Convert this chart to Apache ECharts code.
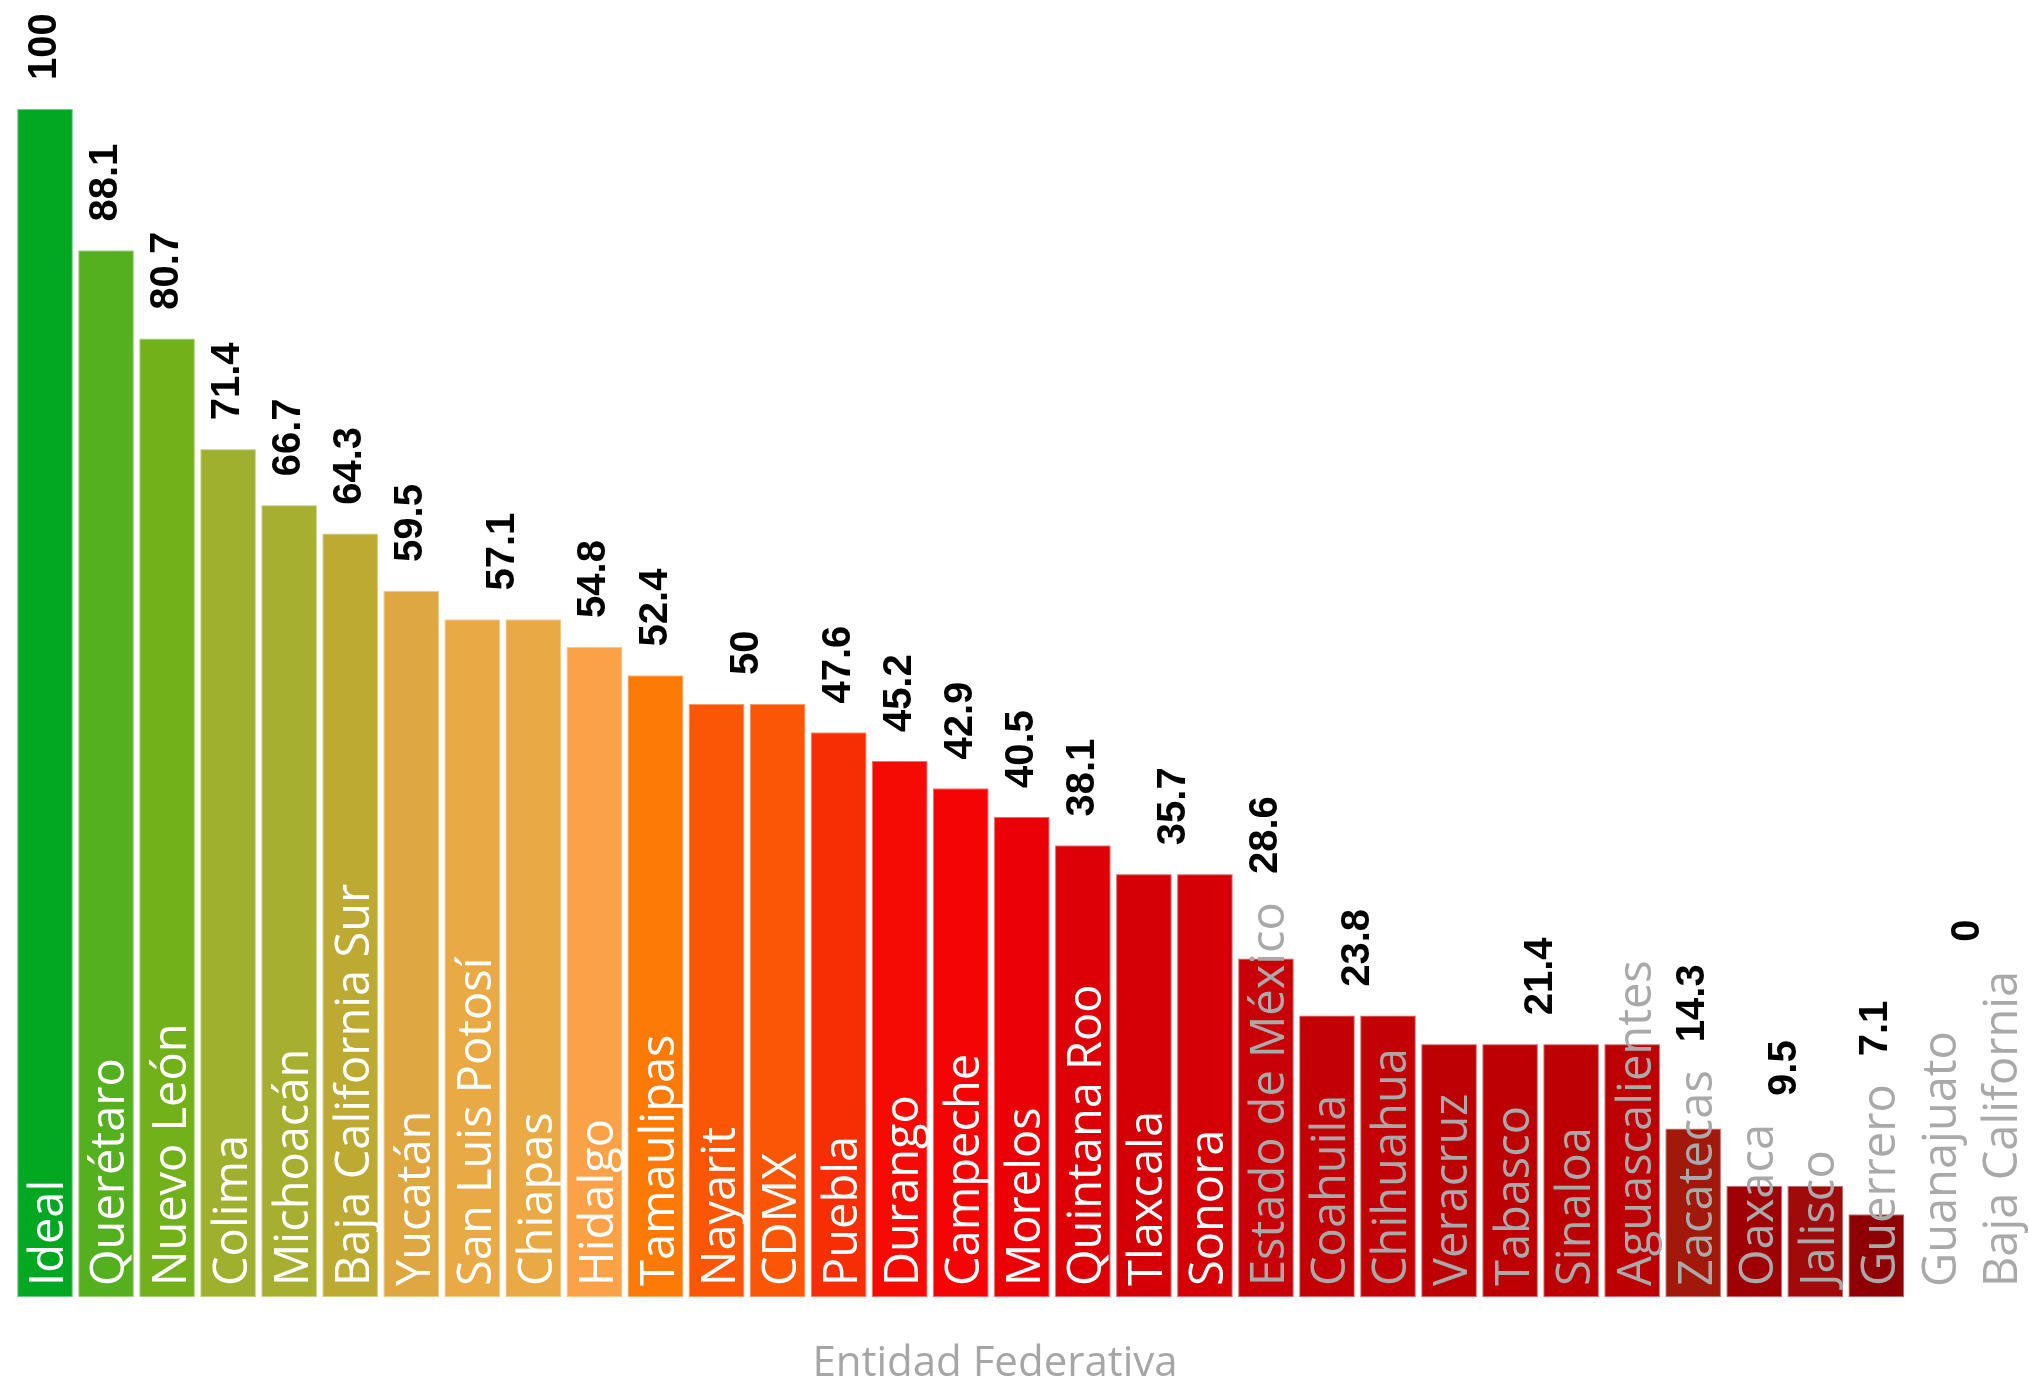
<!DOCTYPE html>
<html>
<head>
<meta charset="utf-8">
<script src="https://cdn.jsdelivr.net/npm/echarts@6/dist/echarts.min.js"></script>
<style>
  html, body { margin: 0; padding: 0; background: #ffffff; }
  #chart { width: 2029px; height: 1386px; }
</style>
</head>
<body>
<div id="chart"></div>
<script>
const categories = [
  "Ideal", "Querétaro", "Nuevo León", "Colima", "Michoacán", "Baja California Sur",
  "Yucatán", "San Luis Potosí", "Chiapas", "Hidalgo", "Tamaulipas", "Nayarit", "CDMX",
  "Puebla", "Durango", "Campeche", "Morelos", "Quintana Roo", "Tlaxcala", "Sonora",
  "Estado de México", "Coahuila", "Chihuahua", "Veracruz", "Tabasco", "Sinaloa",
  "Aguascalientes", "Zacatecas", "Oaxaca", "Jalisco", "Guerrero", "Guanajuato", "Baja California"
];
const values = [
  100, 88.1, 80.7, 71.4, 66.7, 64.3,
  59.5, 57.1, 57.1, 54.8, 52.4, 50, 50,
  47.6, 45.2, 42.9, 40.5, 38.1, 35.7, 35.7,
  28.6, 23.8, 23.8, 21.4, 21.4, 21.4,
  21.4, 14.3, 9.5, 9.5, 7.1, 0, 0
];
const barColors = [
  "#02a822", "#55b020", "#73b11b", "#9eb02e", "#a7af31", "#bdaa33",
  "#dea742", "#e9a944", "#e9a944", "#fba147", "#fc7a05", "#fa5605", "#fa5605",
  "#f72d03", "#f50a04", "#f50405", "#ec0007", "#dd0006", "#d50005", "#d50005",
  "#c90007", "#c20005", "#c20005", "#bd0004", "#bd0004", "#bd0004",
  "#bd0004", "#a2190c", "#9f0005", "#a00a0a", "#8e0003", "#f3e3e5", "#f3e3e5"
];
const axisTitle = "Entidad Federativa";

const CAT_FONT_FAMILY = '"Open Sans"';
const CAT_FONT_WEIGHT = 400;
const CAT_FONT_SIZE = 47;
const CAT_PAD = 12;
const VAL_GAP = 28;
const GRAY_BELOW = 30;

// groups of consecutive equal values share one value label
const labelGroups = [];
values.forEach((v, i) => {
  const last = labelGroups[labelGroups.length - 1];
  if (last && last[1] === v) last[2] = i;
  else labelGroups.push([i, v, i]);
});

const measureCtx = document.createElement('canvas').getContext('2d');
function textWidth(t) {
  measureCtx.font = CAT_FONT_WEIGHT + ' ' + CAT_FONT_SIZE + 'px ' + CAT_FONT_FAMILY;
  return measureCtx.measureText(t).width;
}

function renderValueLabel(params, api) {
  const s = api.value(0), v = api.value(1), e = api.value(2);
  const p0 = api.coord([s, v]);
  const p1 = api.coord([e, v]);
  const base = api.coord([s, 0])[1];
  const cx = (p0[0] + p1[0]) / 2;
  let topY = p0[1];
  const n = e - s + 1;
  const mids = n % 2 ? [s + (n - 1) / 2] : [s + n / 2 - 1, s + n / 2];
  mids.forEach(i => {
    const tt = base - CAT_PAD - textWidth(categories[i]);
    topY = Math.min(topY, tt);
  });
  return {
    type: 'text',
    x: cx,
    y: topY - VAL_GAP,
    rotation: Math.PI / 2,
    style: {
      text: String(v),
      fontFamily: '"Liberation Sans", Arial, sans-serif',
      fontWeight: 'bold',
      fontSize: 40,
      fill: '#000000',
      align: 'left',
      verticalAlign: 'middle'
    }
  };
}

const chart = echarts.init(document.getElementById('chart'), null, { renderer: 'canvas' });
chart.setOption({
  backgroundColor: '#ffffff',
  animation: false,
  title: {
    text: axisTitle,
    left: 990,
    top: 1338,
    textAlign: 'center',
    textStyle: { color: '#a6a6a6', fontSize: 42, fontWeight: CAT_FONT_WEIGHT, fontFamily: CAT_FONT_FAMILY }
  },
  grid: { left: 14.5, top: 108, width: 2023, height: 1190, containLabel: false },
  xAxis: {
    type: 'category',
    data: categories,
    axisLine: { show: false },
    axisTick: { show: false },
    axisLabel: { show: false },
    splitLine: { show: false }
  },
  yAxis: {
    type: 'value',
    min: 0,
    max: 100,
    show: false,
    splitLine: { show: false }
  },
  series: [
    {
      type: 'bar',
      barCategoryGap: '6%',
      data: values.map((v, i) => ({
        value: v,
        itemStyle: { color: barColors[i] },
        label: { color: v < GRAY_BELOW ? '#a9a9a9' : '#ffffff' }
      })),
      itemStyle: { borderColor: 'rgba(255,255,255,0.4)', borderWidth: 2 },
      label: {
        show: true,
        position: 'insideBottom',
        rotate: 90,
        align: 'left',
        verticalAlign: 'middle',
        distance: CAT_PAD,
        offset: [0, 5],
        formatter: '{b}',
        fontFamily: CAT_FONT_FAMILY,
        fontWeight: CAT_FONT_WEIGHT,
        fontSize: CAT_FONT_SIZE
      }
    },
    {
      type: 'custom',
      renderItem: renderValueLabel,
      encode: { x: 0, y: 1 },
      data: labelGroups,
      clip: false,
      z: 10
    }
  ]
});
</script>
</body>
</html>
